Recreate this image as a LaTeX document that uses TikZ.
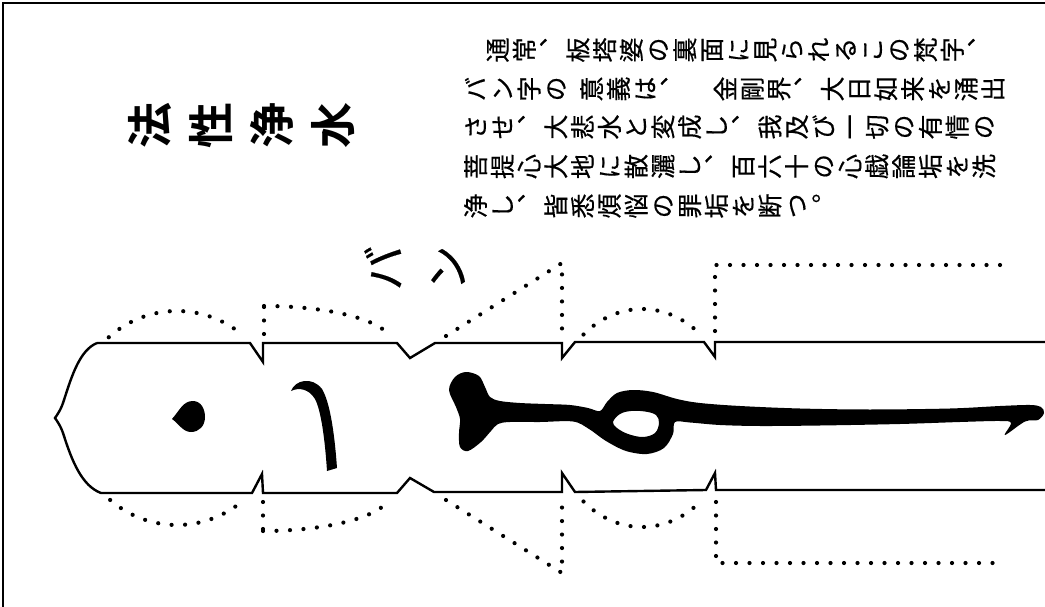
\documentclass[tikz,border=0pt]{standalone}
\usepackage{fontspec}
\usepackage{graphicx}
\newfontfamily\jpfont{Noto Sans CJK JP}[RawFeature=+vert, FakeBold=0.4]
\newfontfamily\jpbold{Noto Sans CJK JP}[UprightFont={* Bold},RawFeature=+vert]

% vertical Japanese set sideways: each character turned a quarter turn
\newlength\tatepitch
\setlength\tatepitch{26.75pt}
\makeatletter
\newcommand\tatechar[1]{\makebox[\tatepitch]{\rotatebox[origin=c]{90}{\makebox[1em]{\raisebox{0pt}[0.88em][0.12em]{#1}}}}}
\newcommand\tate[1]{\@tfor\tate@c:=#1\do{\tatechar{\tate@c}}}
\makeatother

\tikzset{
  board/.style={line width=2.4pt, line join=miter},
  dots/.style={line width=4.2pt, line cap=round, dash pattern=on 0pt off 13.5pt},
  textrow/.style={anchor=west, inner sep=0pt, font=\jpfont\fontsize{25}{25}\selectfont},
  frameline/.style={line width=1.2pt}
}

\begin{document}
\begin{tikzpicture}[x=1pt,y=-1pt]
\useasboundingbox (0,0) rectangle (1045,607);

% frame
\draw[frameline] (3,607) -- (3,3) -- (1045,3);

% title
\node[inner sep=0pt, anchor=west, font=\jpbold\fontsize{46}{46}\selectfont] (title) at (119.5,126)
  {\setlength\tatepitch{61pt}\tate{法性浄水}};

% explanatory text
\node[textrow] (row1) at (484,50) {\tate{通常、板塔婆の裏面に見られるこの梵字、}};
\node[textrow] (row2) at (462,89) {\tate{バン字の}\kern9pt\tate{意義は、}\kern26.75pt\tate{金剛界、大日如来を涌出}};
\node[textrow] (row3) at (462,127) {\tate{させ、大悲水と変成し、我及び一切の有情の}};
\node[textrow] (row4) at (462,166.5) {\tate{菩提心大地に散灑し、百六十の心戯論垢を洗}};
\node[textrow] (row5) at (462,206) {\tate{浄し、皆悉煩悩の罪垢を断つ。}};

% the label of the seed syllable
\node[inner sep=0pt, font=\jpfont\fontsize{46}{46}\selectfont] (ba) at (384,268) {\setlength\tatepitch{1em}\tate{バ}};
\node[inner sep=0pt, font=\jpfont\fontsize{46}{46}\selectfont] (n) at (447,268) {\setlength\tatepitch{1em}\tate{ン}};

% outline of the board
\draw[board]
  (97,343) -- (250,343) -- (263,362) -- (263,343)
  -- (397,343) -- (410,358) -- (435,343)
  -- (562,343) -- (562,358) -- (575,342)
  -- (704,342) -- (715,357) -- (715,342) -- (1050,342);
\draw[board]
  (1050,490) -- (716,490) -- (715,473) -- (706,490)
  -- (575,492) -- (562,473) -- (562,492)
  -- (434,492) -- (410,478) -- (397,493)
  -- (263,493) -- (262,474) -- (252,493)
  -- (101,493)
  .. controls (82,486) and (72,461) .. (64,436)
  .. controls (61,426) and (57,421) .. (55,418)
  .. controls (57,415) and (61,410) .. (64,400)
  .. controls (72,375) and (80,350) .. (97,343);

% dotted figures: jewel, half moon, triangle, circle, square
\draw[dots] plot[domain=131:50, samples=60, smooth] ({177+104*cos(\x)},{418-107*sin(\x)});
\draw[dots] plot[domain=230:311, samples=60, smooth] ({177+104*cos(\x)},{418-107*sin(\x)});

\draw[dots] (264,334) -- (264,306) plot[domain=90:12, samples=50, smooth] ({264+128*cos(\x)},{343-37*sin(\x)});
\draw[dots] (263,502) -- (263,531) plot[domain=270:348, samples=50, smooth] ({263+128*cos(\x)},{493-38*sin(\x)});

\draw[dots] (446,336) -- (562,263) -- (562,334);
\draw[dots] (446,500) -- (562,573) -- (562,502);

\draw[dots] plot[domain=130:50, samples=60, smooth] ({642+91*cos(\x)},{418-109*sin(\x)});
\draw[dots] plot[domain=230:310, samples=60, smooth] ({642+91*cos(\x)},{418-109*sin(\x)});

\draw[dots] (715,331) -- (715,265) -- (1003,265);
\draw[dots] (716,502) -- (716,563) -- (993,563);

% seed syllable written along the board
\fill (172,419) .. controls (180,410) and (183,401) .. (193,401)
  .. controls (201,401) and (205,409) .. (205,417)
  .. controls (205,426) and (199,432) .. (191,432)
  .. controls (183,432) and (179,424) .. cycle;

\fill (291,391) .. controls (295,380) and (312,376) .. (322,389)
  .. controls (331,404) and (335,440) .. (337,468) -- (327,471)
  .. controls (325,440) and (321,410) .. (315,399)
  .. controls (309,389) and (299,387) .. cycle;

\fill[even odd rule]
  plot[smooth cycle, tension=0.55] coordinates {
    (449,390) (455,377) (466,372) (479,376) (485,387) (490,397) (500,401)
    (520,403) (545,404) (570,405) (588,408) (600,411) (607,402) (617,393)
    (633,390) (653,392) (677,399) (700,403) (740,406) (800,408.5)
    (870,409.5) (950,408.5) (1000,406) (1030,405) (1041,407) (1044,413)
    (1038,420) (1025,421.5) (1005,435) (1011,423) (1000,421) (960,422)
    (900,424) (820,425.5) (760,426) (720,425) (690,422.5) (675,422)
    (673,434) (664,448) (647,454) (626,451) (606,441) (589,429)
    (573,421.5) (540,422) (510,422) (498,424) (491,431) (481,442)
    (468,451) (460,447) (459,433) (460,419) (456,407)}
  plot[smooth cycle, tension=0.6] coordinates {
    (613,422) (620,414) (631,411) (645,411.5) (656,415) (659,423)
    (655,433) (643,437) (628,434) (617,428)};
\end{tikzpicture}
\end{document}
